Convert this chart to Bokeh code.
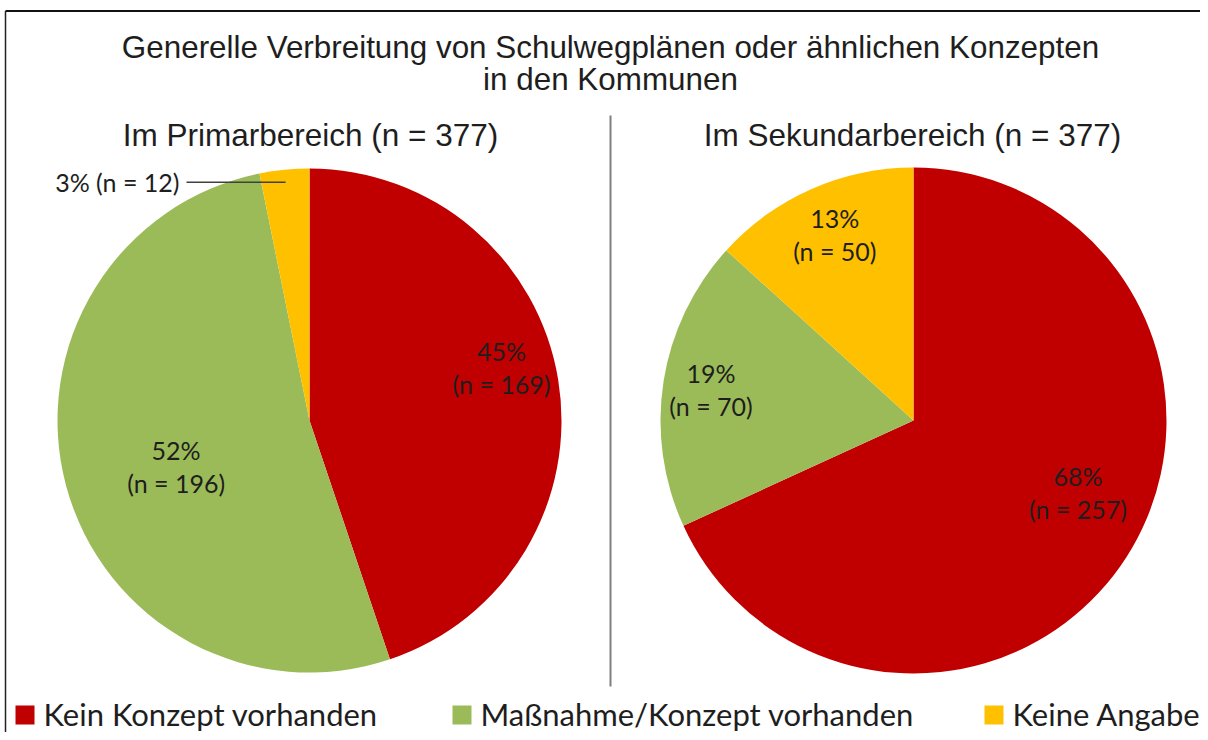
import math
from bokeh.plotting import figure
from bokeh.models import Range1d
from bokeh.embed import file_html
from bokeh.resources import INLINE
from bokeh.core.properties import value

# ---------------- data ----------------
title_lines = ["Generelle Verbreitung von Schulwegplänen oder ähnlichen Konzepten",
               "in den Kommunen"]
categories = ["Kein Konzept vorhanden", "Maßnahme/Konzept vorhanden", "Keine Angabe"]
panel_titles = ["Im Primarbereich (n = 377)", "Im Sekundarbereich (n = 377)"]
primar_counts = [169, 196, 12]
primar_pcts = [45, 52, 3]
sekundar_counts = [257, 70, 50]
sekundar_pcts = [68, 19, 13]

# ---------------- style ----------------
colors = ["#C00000", "#9BBB59", "#FFC000"]
TXT = "#1e1e1e"
SANS = value("Liberation Sans")
LBL = value("Lato")

W, H = 1200, 732
p = figure(width=W, height=H, x_range=Range1d(0, W), y_range=Range1d(-H, 0),
           output_backend="svg", toolbar_location=None, min_border=0,
           x_axis_type=None, y_axis_type=None)
p.grid.visible = False
p.outline_line_color = None
p.background_fill_color = "white"
p.border_fill_color = "white"

# frame lines
p.segment(x0=[5], y0=[-10.5], x1=[W], y1=[-10.5], line_color="#111111", line_width=2)
p.segment(x0=[5], y0=[-10.5], x1=[5], y1=[-H], line_color="#222222", line_width=1.5)
# divider
p.segment(x0=[610], y0=[-115], x1=[610], y1=[-686], line_color="#7f7f7f", line_width=2)

# title
p.text(x=[610, 610], y=[-47, -79], text=title_lines, text_align="center", text_baseline="middle",
       text_font=SANS, text_font_size="31.4px", text_color=TXT)

pies = [
    dict(cx=309, cy=420, r=252, counts=primar_counts, pcts=primar_pcts, title_x=310,
         lab=[(0.79, -6), (0.56, -4), None]),
    dict(cx=913, cy=420, r=253, counts=sekundar_counts, pcts=sekundar_pcts, title_x=912,
         lab=[(0.71, -9), (0.81, 0), (0.80, 1)]),
]

for k, pie in enumerate(pies):
    counts = pie["counts"]
    total = float(sum(counts))
    cum = 0.0
    starts, ends, mids = [], [], []
    for c in counts:
        a0 = cum / total
        cum += c
        a1 = cum / total
        starts.append(math.pi / 2 - a0 * 2 * math.pi)
        ends.append(math.pi / 2 - a1 * 2 * math.pi)
        mids.append((a0 + a1) / 2 * 360.0)
    p.wedge(x=[pie["cx"]] * len(counts), y=[-pie["cy"]] * len(counts), radius=pie["r"],
            start_angle=starts, end_angle=ends, direction="clock",
            fill_color=colors, line_color=None)
    # panel title
    p.text(x=[pie["title_x"]], y=[-134], text=[panel_titles[k]], text_align="center",
           text_baseline="middle", text_font=SANS, text_font_size="31.5px", text_color=TXT)
    # labels
    for i, c in enumerate(counts):
        spec = pie["lab"][i]
        if spec is not None:
            f, dth = spec
            th = math.radians(mids[i] + dth)
            lx = pie["cx"] + pie["r"] * f * math.sin(th)
            ly = pie["cy"] - pie["r"] * f * math.cos(th)
            p.text(x=[lx, lx], y=[-(ly - 16.5), -(ly + 16.5)],
                   text=[f"{pie['pcts'][i]}%", f"(n = {c})"], text_align="center",
                   text_baseline="middle", text_font=LBL, text_font_size="25px",
                   text_color=TXT)
        else:
            th = math.radians(mids[i])
            ex = pie["cx"] + pie["r"] * 0.95 * math.sin(th)
            ey = pie["cy"] - pie["r"] * 0.95 * math.cos(th)
            p.segment(x0=[186], y0=[-ey], x1=[ex], y1=[-ey], line_color="#404040", line_width=1.5)
            p.text(x=[179], y=[-ey], text=[f"{pie['pcts'][i]}% (n = {c})"], text_align="right",
                   text_baseline="middle", text_font=LBL, text_font_size="25px",
                   text_color=TXT)

# legend
leg_x = [15, 452, 984]
for i, cat in enumerate(categories):
    p.rect(x=[leg_x[i] + 9.5], y=[-714.5], width=19, height=19, fill_color=colors[i], line_color=None)
    p.text(x=[leg_x[i] + 28], y=[-713], text=[cat], text_align="left", text_baseline="middle",
           text_font=LBL, text_font_size="31px", text_color=TXT)

open("out.html", "w").write(file_html(p, INLINE))
